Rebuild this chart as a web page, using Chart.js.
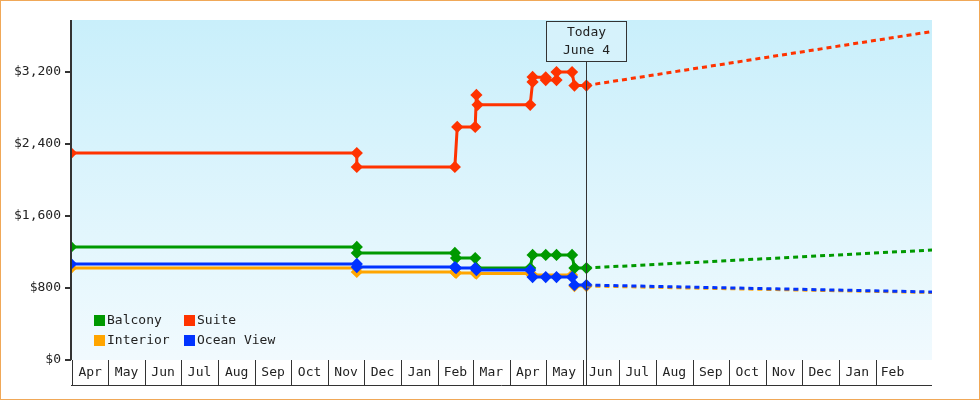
<!DOCTYPE html>
<html><head><meta charset="utf-8">
<script src="https://cdn.jsdelivr.net/npm/chart.js@4"></script>
<style>html,body{margin:0;padding:0;background:#fff}#w{width:978px;height:398px;border:1px solid #f0a858;position:relative}</style>
</head><body><div id="w"><canvas id="c" width="978" height="398"></canvas></div>
<script>
const START = "2023-03-31", END = "2025-03-20", TODAY = "2024-06-04";
const monthLabels = ["Apr","May","Jun","Jul","Aug","Sep","Oct","Nov","Dec","Jan","Feb","Mar","Apr","May","Jun","Jul","Aug","Sep","Oct","Nov","Dec","Jan","Feb"];
const monthStarts = ["2023-04-01","2023-05-01","2023-06-01","2023-07-01","2023-08-01","2023-09-01","2023-10-01","2023-11-01","2023-12-01","2024-01-01","2024-02-01","2024-03-01","2024-04-01","2024-05-01","2024-06-01","2024-07-01","2024-08-01","2024-09-01","2024-10-01","2024-11-01","2024-12-01","2025-01-01","2025-02-01","2025-03-01"];
const suiteDates = ["2023-03-31","2023-11-25","2023-11-25","2024-02-15","2024-02-17","2024-03-03","2024-03-04","2024-03-05","2024-04-18","2024-04-20","2024-04-20","2024-05-01","2024-05-01","2024-05-10","2024-05-10","2024-05-23","2024-05-25","2024-06-04"];
const suiteVals  = [2300,2300,2145,2145,2590,2590,2945,2835,2835,3090,3145,3140,3110,3110,3200,3200,3050,3050];
const balconyDates = ["2023-03-31","2023-11-25","2023-11-25","2024-02-15","2024-02-16","2024-03-03","2024-03-04","2024-04-18","2024-04-20","2024-05-01","2024-05-10","2024-05-23","2024-05-25","2024-06-04"];
const balconyVals  = [1256,1256,1189,1189,1133,1133,1022,1022,1167,1167,1167,1167,1022,1022];
const oceanDates = ["2023-03-31","2023-11-25","2023-11-25","2024-02-15","2024-02-16","2024-03-03","2024-03-04","2024-04-18","2024-04-20","2024-05-01","2024-05-10","2024-05-23","2024-05-25","2024-06-04"];
const oceanVals  = [1067,1067,1033,1033,1022,1022,1000,1000,922,922,922,922,833,833];
const interiorDates = ["2023-03-31","2023-11-25","2023-11-25","2024-02-15","2024-02-16","2024-03-03","2024-03-04","2024-04-18","2024-04-20","2024-05-23","2024-05-25","2024-06-04"];
const interiorVals  = [1022,1022,978,978,967,967,960,960,944,944,822,822];
const fcDates = ["2024-06-04","2025-03-20"];
const fcSuite = [3050,3650], fcBalcony = [1022,1222], fcOcean = [833,756], fcInterior = [822,750];
const yTicks = [0,800,1600,2400,3200];

const day = s => (Date.UTC(+s.slice(0,4), +s.slice(5,7)-1, +s.slice(8,10)) - Date.UTC(2023,2,31))/86400000;
const pts = (d,v) => d.map((s,i)=>({x:day(s),y:v[i]}));
const ORANGE="#ffa500", GREEN="#009900", RED="#ff3300", BLUE="#0033ff";
const FONT = "'DejaVu Sans Mono', monospace";
function solid(label,c,d,v){return {label,data:pts(d,v),borderColor:c,backgroundColor:c,borderWidth:3,pointStyle:'rectRot',pointRadius:4,pointHoverRadius:4,tension:0};}
function dash(c,v){return {label:'',data:pts(fcDates,v),borderColor:c,borderWidth:3,borderDash:[5,4],pointRadius:0,tension:0};}

const deco = {
  id:'deco',
  beforeDraw(ch){
    const {ctx,chartArea:a}=ch;
    const g=ctx.createLinearGradient(0,a.top,0,a.bottom);
    g.addColorStop(0,'#c9effb');g.addColorStop(1,'#f1fafe');
    ctx.fillStyle=g;ctx.fillRect(a.left,a.top,a.right-a.left,a.bottom-a.top);
  },
  afterDraw(ch){
    const {ctx,chartArea:a,scales:{x}}=ch;
    ctx.save();
    ctx.strokeStyle='#333';ctx.lineWidth=1;
    const bot=a.bottom+25;
    ctx.beginPath();ctx.moveTo(a.left,bot+0.5);ctx.lineTo(a.right,bot+0.5);ctx.stroke();
    ctx.font="13px "+FONT;ctx.fillStyle='#222';ctx.textAlign='center';ctx.textBaseline='middle';
    for(let i=0;i<monthLabels.length;i++){
      const x0=Math.max(x.getPixelForValue(day(monthStarts[i])),a.left), x1=Math.min(x.getPixelForValue(day(monthStarts[i+1])),a.right);
      ctx.beginPath();ctx.moveTo(Math.round(x0)+0.5,a.bottom);ctx.lineTo(Math.round(x0)+0.5,bot);ctx.stroke();
      ctx.fillText(monthLabels[i],(x0+x1)/2,a.bottom+13);
    }
    const tx=Math.round(x.getPixelForValue(day(TODAY)))+0.5;
    ctx.beginPath();ctx.moveTo(tx,60);ctx.lineTo(tx,bot);ctx.stroke();
    ctx.fillStyle='#d6f2fb';ctx.fillRect(tx-40,20,80,40);ctx.strokeRect(tx-40,20.5,80,40);
    ctx.fillStyle='#222';ctx.fillText('Today',tx,32);ctx.fillText('June 4',tx,50);
    const L=[["Balcony",GREEN,93,320],["Suite",RED,183,320],["Interior",ORANGE,93,340],["Ocean View",BLUE,183,340]];
    ctx.textAlign='left';
    for(const [t,c,lx,ly] of L){ctx.fillStyle=c;ctx.fillRect(lx,ly-6,11,11);ctx.fillStyle='#222';ctx.fillText(t,lx+13,ly);}
    ctx.lineWidth=2;ctx.beginPath();ctx.moveTo(a.left,a.top);ctx.lineTo(a.left,a.bottom);ctx.stroke();
    ctx.restore();
  }
};

new Chart(document.getElementById('c'),{
  type:'line',
  data:{datasets:[
    dash(BLUE,fcOcean),dash(GREEN,fcBalcony),dash(RED,fcSuite),dash(ORANGE,fcInterior),
    solid('Ocean View',BLUE,oceanDates,oceanVals),solid('Balcony',GREEN,balconyDates,balconyVals),
    solid('Suite',RED,suiteDates,suiteVals),solid('Interior',ORANGE,interiorDates,interiorVals)]},
  options:{
    responsive:false,animation:false,
    layout:{padding:{top:19,right:47,bottom:0,left:0}},
    plugins:{legend:{display:false},tooltip:{enabled:false}},
    scales:{
      x:{type:'linear',min:0,max:day(END),ticks:{display:false},grid:{display:false},border:{display:false},afterFit(s){s.height=39;}},
      y:{min:0,max:3778,afterBuildTicks(s){s.ticks=yTicks.map(v=>({value:v}));},
         ticks:{font:{family:FONT,size:13},color:'#222',padding:4,callback:v=>'$'+v.toLocaleString('en-US')},
         grid:{drawOnChartArea:false,tickLength:6,color:'#333',lineWidth:2},border:{display:false},afterFit(s){s.width=70;}}
    }
  },
  plugins:[deco]
});
</script></body></html>
